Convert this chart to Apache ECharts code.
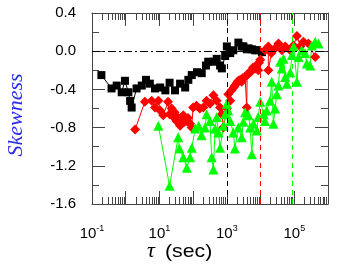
<!DOCTYPE html>
<html>
<head>
<meta charset="utf-8">
<script src="https://cdn.jsdelivr.net/npm/echarts@6/dist/echarts.min.js"></script>
<style>html,body{margin:0;padding:0;background:#fff}#c{width:340px;height:272px}</style>
</head>
<body>
<div id="c"></div>
<script>
// tau (sec), skewness
var blackTau = [0.19,0.38,0.54,0.76,0.95,1.2,1.35,1.5,2.1,3.0,4.0,5.2,7.4,10.5,15,20,29,41,58,72,91,130,180,240,280,400,500,630,710,890,1000,1260,1550,2200,2750,3100,3900,4400,5500,6900,7800,11000];
var blackSkew = [-0.25,-0.39,-0.36,-0.43,-0.31,-0.43,-0.52,-0.59,-0.39,-0.36,-0.30,-0.34,-0.39,-0.38,-0.41,-0.33,-0.41,-0.34,-0.38,-0.30,-0.25,-0.22,-0.23,-0.15,-0.11,-0.11,-0.08,-0.15,-0.18,-0.05,0.05,-0.02,0.01,0.09,0.05,0.05,0.02,0.03,0.02,0.01,0.01,-0.01];

var redTau = [1.9,3.7,5.9,7.4,9.3,10.5,13,18,20,23,26,28,32,36,41,45,51,56,65,70,81,90,100,126,158,200,250,316,400,500,630,710,790,1000,1100,1260,1380,1600,1740,2000,2190,2500,2750,3000,3470,3890,4000,4370,5000,5500,6000,6900,7500,8500,9000,9800,13500,17000,17000,21000,27000,34000,43000,54000,76000,95000,120000,150000,186000,263000,417000];
var redSkew = [-0.82,-0.53,-0.52,-0.59,-0.52,-0.62,-0.67,-0.53,-0.66,-0.60,-0.69,-0.64,-0.73,-0.70,-0.78,-0.72,-0.67,-0.74,-0.73,-0.70,-0.76,-0.80,-0.59,-0.57,-0.60,-0.59,-0.52,-0.55,-0.46,-0.52,-0.59,-0.66,-0.80,-0.60,-0.45,-0.52,-0.41,-0.38,-0.36,-0.33,-0.31,-0.30,-0.32,-0.28,-0.27,-0.59,-0.25,-0.23,-0.22,-0.20,-0.17,-0.18,-0.15,-0.20,-0.12,-0.09,0.01,0.05,-0.20,-0.02,0.03,0.08,0.01,0.05,0.01,0.06,0.16,0.05,0.10,0.08,-0.06];

var greenTau = [9.3,20,36,39,51,65,81,91,115,145,178,224,251,316,355,398,447,501,562,631,794,891,1000,1100,1260,1550,1740,2190,2750,3090,3470,4370,4900,5500,6170,7760,8510,9770,12300,13500,15100,19000,21400,24000,26900,30200,33900,38000,42700,47900,53700,60300,75900,85100,95500,120000,135000,166000,209000,234000,295000,331000,417000,525000];
var greenSkew = [-0.78,-1.41,-0.90,-1.02,-1.11,-1.22,-1.11,-1.01,-0.81,-0.78,-0.88,-0.80,-0.66,-0.73,-1.11,-1.24,-0.81,-0.69,-0.85,-1.01,-0.78,-0.66,-0.55,-0.62,-0.73,-0.85,-1.02,-0.80,-0.90,-0.74,-0.64,-0.67,-0.80,-1.08,-0.76,-0.83,-0.69,-0.53,-0.66,-0.73,-0.62,-0.52,-0.32,-0.76,-0.60,-0.45,-0.36,-0.11,-0.18,-0.08,-0.27,-0.34,-0.22,-0.04,0.05,-0.32,-0.06,0.01,-0.02,-0.13,-0.15,0.06,0.10,0.08];

var vLines = [1000, 10000, 90000];
var yTicks = {min: -1.6, max: 0.4, step: 0.4};

function pairs(xs, ys){ return xs.map(function(x,i){ return [x, ys[i]]; }); }

var chart = echarts.init(document.getElementById('c'), null, {renderer:'canvas'});
var frame = '#444';
function xAx(pos, labels){
  return {
    type:'log', logBase:10, min:0.1, max:1e6, position:pos, splitNumber:10,
    axisLine:{show:true, onZero:false, lineStyle:{color:frame, width:1}},
    axisTick:{show:true, inside:true, length:13, lineStyle:{color:frame}},
    minorTick:{show:true, splitNumber:9, length:7, lineStyle:{color:frame}},
    splitLine:{show:false}, minorSplitLine:{show:false},
    axisLabel: labels ? {
      show:true, margin:20, color:'#000',
      formatter:function(v){ var e=Math.round(Math.log10(v)); if (Math.abs(e)%2!==1) return ''; return '{b|10}{s|'+e+'}'; },
      rich:{ b:{fontSize:15, fontFamily:'Arial', color:'#000'}, s:{fontSize:9, fontFamily:'Arial', color:'#000', padding:[0,0,10,0]} }
    } : {show:false}
  };
}
function yAx(pos, labels){
  return {
    type:'value', min:yTicks.min, max:yTicks.max, interval:yTicks.step, position:pos,
    axisLine:{show:true, onZero:false, lineStyle:{color:frame, width:1}},
    axisTick:{show:true, inside:true, length:13, lineStyle:{color:frame}},
    minorTick:{show:true, splitNumber:2, length:7, lineStyle:{color:frame}},
    splitLine:{show:false}, minorSplitLine:{show:false},
    axisLabel: labels ? {show:true, margin:16, fontSize:15, fontFamily:'Arial', color:'#000',
      formatter:function(v){ return v.toFixed(1); }} : {show:false}
  };
}
function ml(x, color){
  return {xAxis:x, lineStyle:{color:color, type:[5,4], width:1}};
}
var option = {
  animation:false,
  grid:{left:92, right:12, top:13, bottom:68},
  xAxis:[xAx('bottom', true), xAx('top', false)],
  yAxis:[yAx('left', true), yAx('right', false)],
  graphic:[
    {type:'text', x:16, y:115, rotation:Math.PI/2, style:{text:'Skewness', font:'italic 22px "Liberation Serif"', fill:'#2a2aee', textAlign:'center', textVerticalAlign:'middle'}},
    {type:'text', x:147, y:251, style:{text:'τ', font:'italic 22px "Liberation Serif"', fill:'#000', textVerticalAlign:'middle'}},
    {type:'text', x:165, y:252, scaleX:1.12, style:{text:'(sec)', font:'19px Arial', fill:'#000', textVerticalAlign:'middle'}}
  ],
  series:[
    {type:'line', data:pairs(blackTau, blackSkew), symbol:'rect', symbolSize:8, itemStyle:{color:'#000'}, lineStyle:{color:'#000', width:1},
     markLine:{silent:true, symbol:['none','none'], label:{show:false},
       data:[{yAxis:0, lineStyle:{color:'#000', type:[8,3,2,3], width:1}}, ml(vLines[0], '#000')]}},
    {type:'line', data:pairs(redTau, redSkew), symbol:'diamond', symbolSize:10, itemStyle:{color:'#ff0000'}, lineStyle:{color:'#ff0000', width:1},
     markLine:{silent:true, symbol:['none','none'], label:{show:false}, data:[ml(vLines[1], '#ff0000')]}},
    {type:'line', data:pairs(greenTau, greenSkew), symbol:'triangle', symbolSize:10, itemStyle:{color:'#00ff00'}, lineStyle:{color:'#00ff00', width:1},
     markLine:{silent:true, symbol:['none','none'], label:{show:false}, data:[ml(vLines[2], '#00ff00')]}}
  ]
};
chart.setOption(option);
</script>
</body>
</html>
